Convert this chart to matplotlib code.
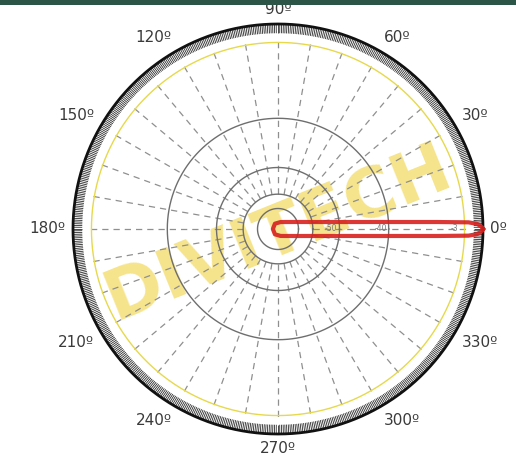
import numpy as np
import matplotlib
matplotlib.use("Agg")
import matplotlib.pyplot as plt
from matplotlib.patches import Rectangle

# --------------------------------------------------
# DATA
# --------------------------------------------------

# polar angle labels (degrees)
label_angles = [0, 30, 60, 90, 120, 150, 180, 210, 240, 270, 300, 330]
label_texts = ["0º", "30º", "60º", "90º", "120º", "150º",
               "180º", "210º", "240º", "270º", "300º", "330º"]

# grey reference circles (relative radius)
ring_r = [0.10, 0.17, 0.30, 0.54]
yellow_r = 0.91

# level labels drawn along the 0º axis
level_r = [0.26, 0.50, 0.86]
level_texts = ["-50", "-40", "-3"]

# beam pattern (half lobe, mirrored), angle in degrees vs relative radius
beam_deg = [0, 0.5, 1.0, 1.5, 2.0, 2.5, 3.0, 4.0, 6.0, 10.0, 20.0, 40.0, 70.0, 120.0, 180.0]
beam_r = [1.00, 0.995, 0.985, 0.97, 0.93, 0.78, 0.65, 0.49, 0.325, 0.196, 0.10, 0.053, 0.036, 0.03, 0.025]

# --------------------------------------------------
# FIGURE
# --------------------------------------------------

fig = plt.figure(figsize=(5.16, 4.59), dpi=100)

# header strip
fig.add_artist(Rectangle((0, 1 - 5 / 459), 1, 5 / 459, transform=fig.transFigure,
                         color="#2d5547", lw=0))

ax = fig.add_axes([73 / 516, 25 / 459, 410 / 516, 410 / 459], projection="polar")
ax.set_ylim(0, 1.0)
ax.grid(False)
ax.set_xticks([])
ax.set_yticks([])
ax.spines["polar"].set_visible(False)

t = np.linspace(0, 2 * np.pi, 721)

# watermark
ax.text(0.5, 0.49, "DIVITECH", transform=ax.transAxes, rotation=22,
        ha="center", va="center", fontsize=50, fontweight="bold",
        color="#f1d64e", alpha=0.65, zorder=1)

# radial dashed lines every 10 degrees
for a in range(0, 360, 10):
    ax.plot([np.radians(a)] * 2, [0.17, 0.935], color="#8f8f8f", lw=0.9,
            dashes=(5, 4), zorder=2)

# grey circles
for r in ring_r:
    ax.plot(t, np.full_like(t, r), color="#6e6e6e", lw=1.0, zorder=3)

# yellow circle
ax.plot(t, np.full_like(t, yellow_r), color="#e6d94c", lw=1.0, zorder=3)

# outer black ring with fine ticks
tick_t = np.radians(np.arange(0, 360, 0.5))
ax.vlines(tick_t, 0.955, 1.0, color="#2a2a2a", lw=0.6, zorder=4)
ax.plot(t, np.full_like(t, 1.0), color="#111111", lw=2.0, zorder=5, clip_on=False)

# beam
half = np.radians(beam_deg)
theta = np.concatenate([half, -half[::-1]])
rad = np.concatenate([beam_r, beam_r[::-1]])
ax.plot(theta, rad, color="#d6211f", lw=3.0, alpha=0.9, zorder=6, clip_on=False)

# level labels
for r, s in zip(level_r, level_texts):
    ax.text(0, r, s, ha="center", va="center", fontsize=5.5, color="#777777", zorder=7)

# angle labels, anchored on the side facing the circle
for a, s in zip(label_angles, label_texts):
    c, sn = np.cos(np.radians(a)), np.sin(np.radians(a))
    ha = "left" if c > 0.1 else ("right" if c < -0.1 else "center")
    va = "bottom" if sn > 0.1 else ("top" if sn < -0.1 else "center")
    ax.text(np.radians(a), 1.035, s, ha=ha, va=va,
            fontsize=11, color="#3a3a3a", zorder=7)

fig.savefig("out.png", dpi=100)
